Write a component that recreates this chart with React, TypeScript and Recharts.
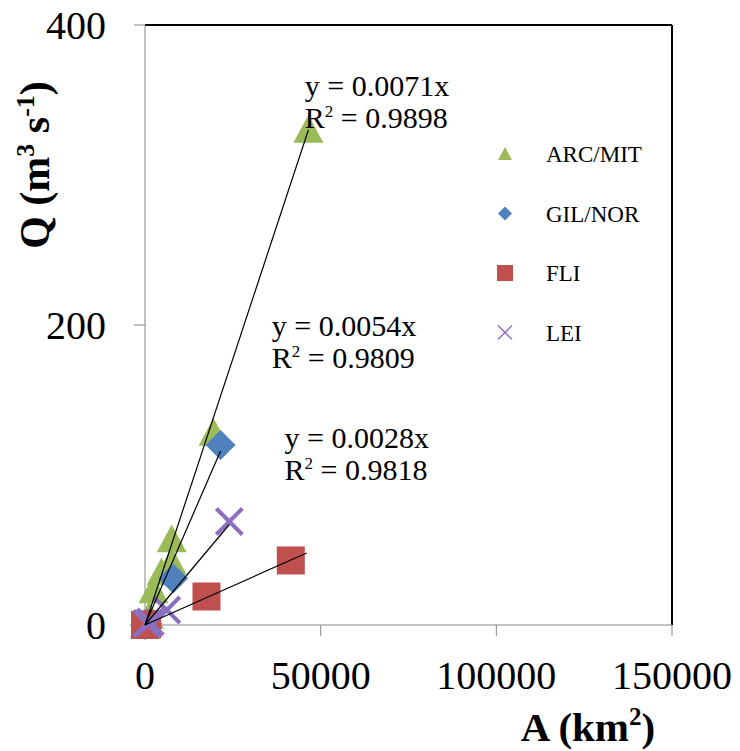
import React from 'react';
import {
  ScatterChart,
  Scatter,
  XAxis,
  YAxis,
  ReferenceLine,
  Label,
} from 'recharts';

const FONT = '"Liberation Serif", "Times New Roman", serif';

const xTicks = [0, 50000, 100000, 150000];
const yTicks = [0, 200, 400];

// measured points (A km2, Q m3/s)
const arcMit = [
  { x: 0, y: 0.5 },
  { x: 1200, y: 6 },
  { x: 2400, y: 23 },
  { x: 4700, y: 35 },
  { x: 7600, y: 42 },
  { x: 7600, y: 57 },
  { x: 19500, y: 128 },
  { x: 46500, y: 330 },
];
const gilNor = [
  { x: 0, y: 0 },
  { x: 600, y: 1 },
  { x: 8000, y: 31 },
  { x: 21500, y: 120 },
];
const fli = [
  { x: 0, y: 0 },
  { x: 600, y: 0.5 },
  { x: 17500, y: 19 },
  { x: 41500, y: 43 },
];
const lei = [
  { x: 500, y: 1 },
  { x: 1500, y: 2 },
  { x: 6200, y: 10 },
  { x: 24000, y: 69 },
];

// trend line end points
const arcLine = [{ x: 0, y: 0 }, { x: 46500, y: 330 }];
const gilLine = [{ x: 0, y: 0 }, { x: 21500, y: 116 }];
const fliLine = [{ x: 0, y: 0 }, { x: 46000, y: 48 }];
const leiLine = [{ x: 0, y: 0 }, { x: 24000, y: 67 }];

// equation labels, anchored at the first line's baseline
const equations = [
  { x: 45500, y: 353, eq: 'y = 0.0071x', r2: '0.9898' },
  { x: 36100, y: 193, eq: 'y = 0.0054x', r2: '0.9809' },
  { x: 39700, y: 118, eq: 'y = 0.0028x', r2: '0.9818' },
];

const legendItems = [
  { name: 'ARC/MIT', color: '#9BBB59', kind: 'triangle' },
  { name: 'GIL/NOR', color: '#4F81BD', kind: 'diamond' },
  { name: 'FLI', color: '#C0504D', kind: 'square' },
  { name: 'LEI', color: '#8B6FC0', kind: 'cross' },
];

function marker(kind: string, cx: number, cy: number, s: number, color: string, sw = 4) {
  const h = s / 2;
  if (kind === 'triangle') {
    return <polygon points={`${cx},${cy - h} ${cx + h},${cy + h * 0.85} ${cx - h},${cy + h * 0.85}`} fill={color} />;
  }
  if (kind === 'diamond') {
    return <polygon points={`${cx},${cy - h} ${cx + h},${cy} ${cx},${cy + h} ${cx - h},${cy}`} fill={color} />;
  }
  if (kind === 'square') {
    return <rect x={cx - h} y={cy - h} width={s} height={s} fill={color} />;
  }
  return (
    <g stroke={color} strokeWidth={sw}>
      <line x1={cx - h} y1={cy - h} x2={cx + h} y2={cy + h} />
      <line x1={cx - h} y1={cy + h} x2={cx + h} y2={cy - h} />
    </g>
  );
}

const shapeOf = (kind: string, size: number, color: string) => (props: any) => {
  const { cx, cy } = props;
  if (cx == null || cy == null) return <g />;
  return marker(kind, cx, cy, size, color);
};

const NoDot = () => <g />;

function EquationText(props: any) {
  const { cx, cy, payload } = props;
  if (cx == null || cy == null) return <g />;
  return (
    <text fontFamily={FONT} fontSize={30} fill="#000">
      <tspan x={cx} y={cy}>{payload.eq}</tspan>
      <tspan x={cx} y={cy + 32}>R</tspan>
      <tspan fontSize={17} dy={-11}>2</tspan>
      <tspan dy={11}>{' = ' + payload.r2}</tspan>
    </text>
  );
}

function LegendBox() {
  return (
    <svg width={180} height={240} style={{ position: 'absolute', left: 490, top: 135 }}>
      {legendItems.map((item, i) => {
        const cy = 19 + i * 59.5;
        return (
          <g key={item.name}>
            {marker(item.kind, 15, cy, item.kind === 'square' ? 16 : 14, item.color, 1.5)}
            <text x={56} y={cy + 8} fontFamily={FONT} fontSize={23} fill="#000">
              {item.name}
            </text>
          </g>
        );
      })}
    </svg>
  );
}

function YTitle(props: any) {
  const { viewBox } = props;
  const x = viewBox.x + 49;
  const y = viewBox.y + 140;
  return (
    <text
      x={x}
      y={y}
      transform={`rotate(-90 ${x} ${y})`}
      textAnchor="middle"
      fontFamily={FONT}
      fontWeight="bold"
      fontSize={42}
      fill="#000"
    >
      Q (m<tspan fontSize={26} dy={-15}>3</tspan>
      <tspan dy={15}> s</tspan>
      <tspan fontSize={26} dy={-15}>-1</tspan>
      <tspan dy={15}>)</tspan>
    </text>
  );
}

function XTitle(props: any) {
  const { viewBox } = props;
  const x = viewBox.x + 443;
  const y = viewBox.y + 116;
  return (
    <text x={x} y={y} textAnchor="middle" fontFamily={FONT} fontWeight="bold" fontSize={41} fill="#000">
      A (km<tspan fontSize={25} dy={-16}>2</tspan>
      <tspan dy={16}>)</tspan>
    </text>
  );
}

export default function App() {
  const tickStyle = { fontSize: 40, fill: '#000', fontFamily: FONT };
  return (
    <div style={{ position: 'absolute', left: 0, top: 0, width: 740, height: 751, background: '#fff' }}>
      <ScatterChart width={740} height={751} margin={{ top: 25, right: 68, bottom: 0, left: 0 }}>
        <XAxis
          type="number"
          dataKey="x"
          domain={[0, 150000]}
          ticks={xTicks}
          interval={0}
          height={126}
          tick={tickStyle}
          tickSize={11}
          tickMargin={25}
          stroke="#868686"
          tickLine={{ stroke: '#868686' }}
        >
          <Label content={<XTitle />} />
        </XAxis>
        <YAxis
          type="number"
          dataKey="y"
          domain={[0, 400]}
          ticks={yTicks}
          interval={0}
          width={145}
          tick={tickStyle}
          tickSize={11}
          tickMargin={28}
          stroke="#868686"
          tickLine={{ stroke: '#868686' }}
        >
          <Label content={<YTitle />} />
        </YAxis>
        <ReferenceLine y={400} stroke="#000" strokeWidth={2} />
        <ReferenceLine x={150000} stroke="#000" strokeWidth={2} />
        <Scatter name="ARC/MIT" data={arcMit} shape={shapeOf('triangle', 30, '#9BBB59')} isAnimationActive={false} />
        <Scatter name="GIL/NOR" data={gilNor} shape={shapeOf('diamond', 30, '#4F81BD')} isAnimationActive={false} />
        <Scatter name="FLI" data={fli} shape={shapeOf('square', 28, '#C0504D')} isAnimationActive={false} />
        <Scatter name="LEI" data={lei} shape={shapeOf('cross', 26, '#8B6FC0')} isAnimationActive={false} />
        <Scatter data={arcLine} line={{ stroke: '#000', strokeWidth: 1.2 }} shape={NoDot} legendType="none" isAnimationActive={false} />
        <Scatter data={gilLine} line={{ stroke: '#000', strokeWidth: 1.2 }} shape={NoDot} legendType="none" isAnimationActive={false} />
        <Scatter data={fliLine} line={{ stroke: '#000', strokeWidth: 1.2 }} shape={NoDot} legendType="none" isAnimationActive={false} />
        <Scatter data={leiLine} line={{ stroke: '#000', strokeWidth: 1.2 }} shape={NoDot} legendType="none" isAnimationActive={false} />
        <Scatter data={equations} shape={EquationText} legendType="none" isAnimationActive={false} />
      </ScatterChart>
      <LegendBox />
    </div>
  );
}
